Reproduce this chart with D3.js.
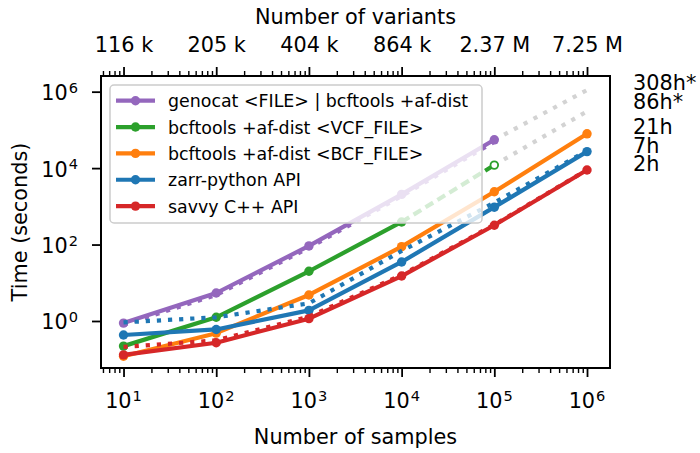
<!DOCTYPE html>
<html>
<head>
<meta charset="utf-8">
<script src="https://cdn.jsdelivr.net/npm/d3@7"></script>
<style>
  html, body { margin: 0; padding: 0; background: #fff; }
  svg { display: block; font-family: "DejaVu Sans", sans-serif; }
</style>
</head>
<body>
<svg id="chart" width="700" height="453"></svg>
<script>
// ---------------- data ----------------
const samples = [10, 100, 1000, 10000, 100000, 1000000];
const variantLabels = ["116 k", "205 k", "404 k", "864 k", "2.37 M", "7.25 M"];
const yTickValues = [1, 1e2, 1e4, 1e6];
const yTickExponents = ["0", "2", "4", "6"];
const xTickExponents = ["1", "2", "3", "4", "5", "6"];

const seriesNames = [
  "genocat <FILE> | bcftools +af-dist",
  "bcftools +af-dist <VCF_FILE>",
  "bcftools +af-dist <BCF_FILE>",
  "zarr-python API",
  "savvy C++ API"
];
const seriesColors = ["#9467bd", "#2ca02c", "#ff7f0e", "#1f77b4", "#d62728"];

// seconds, one value per sample count (starting at 10)
const genocat       = [0.88, 5.4, 92, 2050, 55000];
const genocatDotted = [0.80, 4.8, 82, 1850, 49000];
const vcfBcftools   = [0.22, 1.25, 20, 390];
const vcfProjected  = [390, 12000];          // at 1e4, 1e5
const bcfBcftools   = [0.12, 0.48, 4.8, 88, 2400, 79000];
const zarrPython    = [0.43, 0.60, 1.9, 35, 950, 27000];
const zarrDotted    = [0.92, 1.25, 2.9, 68, 1250, 28500];
const savvyCpp      = [0.13, 0.27, 1.15, 15, 320, 8900];
const savvyDotted   = [0.21, 0.31, 1.3, 16, 330, 9000];
const genocatExtrap = [55000, 1100000];      // at 1e5, 1e6
const vcfExtrap     = [12000, 305000];       // at 1e5, 1e6

const hourLabels = ["308h*", "86h*", "21h", "7h", "2h"];
const hourLabelSeconds = [1.1e6, 3.5e5, 7.6e4, 2.55e4, 8.5e3];

// ---------------- layout ----------------
const svg = d3.select("#chart");
const pLeft = 101, pRight = 610, pTop = 76, pBottom = 368;
const FS = 20.8;

const x = d3.scaleLog().domain([Math.pow(10, 0.757), Math.pow(10, 6.248)]).range([pLeft, pRight]);
const y = d3.scaleLog().domain([Math.pow(10, -1.23), Math.pow(10, 6.41)]).range([pBottom, pTop]);

const pts = (xs, ys) => ys.map((v, i) => [xs[i], v]);
const line = d3.line().x(d => x(d[0])).y(d => y(d[1]));

// minor ticks
const minors = [];
for (let e = 0; e <= 6; e++) {
  for (let m = 2; m <= 9; m++) {
    const v = m * Math.pow(10, e);
    if (v >= x.domain()[0] && v <= x.domain()[1]) minors.push(v);
  }
}

function styleAxis(g, w) {
  g.select(".domain").remove();
  g.selectAll(".tick line").attr("stroke", "#000").attr("stroke-width", w);
}

// bottom axis
svg.append("g").attr("transform", `translate(0,${pBottom})`)
  .call(d3.axisBottom(x).tickValues(minors).tickSize(5).tickFormat(""))
  .call(g => styleAxis(g, 1.4));
svg.append("g").attr("transform", `translate(0,${pBottom})`)
  .call(d3.axisBottom(x).tickValues(samples).tickSize(9).tickFormat(""))
  .call(g => styleAxis(g, 1.8));

const xl = svg.append("g").selectAll("text").data(samples).join("text")
  .attr("x", d => x(d)).attr("y", 408)
  .attr("text-anchor", "middle").attr("font-size", FS).attr("fill", "#000");
xl.append("tspan").text("10");
xl.append("tspan").attr("dx", 1).attr("dy", -7.5).attr("font-size", 14.6).text((d, i) => xTickExponents[i]);

// top axis
svg.append("g").attr("transform", `translate(0,${pTop})`)
  .call(d3.axisTop(x).tickValues(minors).tickSize(5).tickFormat(""))
  .call(g => styleAxis(g, 1.4));
svg.append("g").attr("transform", `translate(0,${pTop})`)
  .call(d3.axisTop(x).tickValues(samples).tickSize(9).tickPadding(15)
    .tickFormat((d, i) => variantLabels[i]))
  .call(g => styleAxis(g, 1.8))
  .call(g => g.selectAll("text").attr("font-size", FS).attr("fill", "#000")
    .attr("font-family", "DejaVu Sans"));

// left axis
svg.append("g").attr("transform", `translate(${pLeft},0)`)
  .call(d3.axisLeft(y).tickValues(yTickValues).tickSize(9).tickFormat(""))
  .call(g => styleAxis(g, 1.8));
const yl = svg.append("g").selectAll("text").data(yTickValues).join("text")
  .attr("x", 78).attr("y", d => y(d) + 8.5)
  .attr("text-anchor", "end").attr("font-size", FS).attr("fill", "#000");
yl.append("tspan").text("10");
yl.append("tspan").attr("dx", 1).attr("dy", -7.5).attr("font-size", 14.6).text((d, i) => yTickExponents[i]);

// axis titles
svg.append("text").attr("x", (pLeft + pRight) / 2).attr("y", 444)
  .attr("text-anchor", "middle").attr("font-size", FS).text("Number of samples");
svg.append("text").attr("x", (pLeft + pRight) / 2).attr("y", 24)
  .attr("text-anchor", "middle").attr("font-size", FS).text("Number of variants");
svg.append("text").attr("transform", `translate(27,${(pTop + pBottom) / 2}) rotate(-90)`)
  .attr("text-anchor", "middle").attr("font-size", FS).text("Time (seconds)");

// ---------------- marks ----------------
const plot = svg.append("g");
const LW = 4.2;
const dotted = `${LW} ${LW * 1.65}`;

function drawLine(data, color, dash) {
  plot.append("path").datum(data)
    .attr("d", line)
    .attr("fill", "none")
    .attr("stroke", color)
    .attr("stroke-width", LW)
    .attr("stroke-linejoin", "round")
    .attr("stroke-linecap", dash ? "butt" : "round")
    .attr("stroke-dasharray", dash || null);
}
function drawMarkers(data, color) {
  plot.append("g").selectAll("circle").data(data).join("circle")
    .attr("cx", d => x(d[0])).attr("cy", d => y(d[1])).attr("r", 4.7)
    .attr("fill", color);
}

// grey extrapolations
drawLine(pts(samples.slice(4), genocatExtrap), "#d3d3d3", dotted);
drawLine(pts(samples.slice(4), vcfExtrap), "#d3d3d3", dotted);

// genocat
drawLine(pts(samples, genocat), seriesColors[0]);
drawLine(pts(samples, genocatDotted), seriesColors[0], dotted);
drawMarkers(pts(samples, genocat), seriesColors[0]);

// vcf
drawLine(pts(samples, vcfBcftools), seriesColors[1]);
drawLine(pts(samples.slice(3), vcfProjected), seriesColors[1], "9 5");
drawMarkers(pts(samples, vcfBcftools), seriesColors[1]);
plot.append("circle").datum([samples[4], vcfProjected[1]])
  .attr("cx", d => x(d[0])).attr("cy", d => y(d[1])).attr("r", 3.8)
  .attr("fill", "#fff").attr("stroke", seriesColors[1]).attr("stroke-width", 1.8);

// bcf
drawLine(pts(samples, bcfBcftools), seriesColors[2]);
drawMarkers(pts(samples, bcfBcftools), seriesColors[2]);

// zarr
drawLine(pts(samples, zarrPython), seriesColors[3]);
drawLine(pts(samples, zarrDotted), seriesColors[3], dotted);
drawMarkers(pts(samples, zarrPython), seriesColors[3]);

// savvy
drawLine(pts(samples, savvyCpp), seriesColors[4]);
drawLine(pts(samples, savvyDotted), seriesColors[4], dotted);
drawMarkers(pts(samples, savvyCpp), seriesColors[4]);

// frame
svg.append("rect").attr("x", pLeft).attr("y", pTop)
  .attr("width", pRight - pLeft).attr("height", pBottom - pTop)
  .attr("fill", "none").attr("stroke", "#000").attr("stroke-width", 2);

// hour labels on the right
svg.append("g").selectAll("text").data(hourLabels).join("text")
  .attr("x", 633).attr("y", (d, i) => y(hourLabelSeconds[i]))
  .attr("font-size", FS).attr("fill", "#000").text(d => d);

// ---------------- legend ----------------
const lg = svg.append("g");
lg.append("rect").attr("x", 110).attr("y", 85).attr("width", 372).attr("height", 138)
  .attr("rx", 4).attr("fill", "#fff").attr("fill-opacity", 0.8)
  .attr("stroke", "#cccccc").attr("stroke-width", 1.5);
const rows = lg.selectAll("g.row").data(seriesNames).join("g")
  .attr("transform", (d, i) => `translate(0,${100.7 + i * 26.35})`);
rows.append("line").attr("x1", 116).attr("x2", 155).attr("y1", 0).attr("y2", 0)
  .attr("stroke", (d, i) => seriesColors[i]).attr("stroke-width", LW);
rows.append("circle").attr("cx", 135.5).attr("cy", 0).attr("r", 4.7)
  .attr("fill", (d, i) => seriesColors[i]);
rows.append("text").attr("x", 168).attr("y", 6.5).attr("font-size", 17.4)
  .attr("fill", "#000").text(d => d);
</script>
</body>
</html>
